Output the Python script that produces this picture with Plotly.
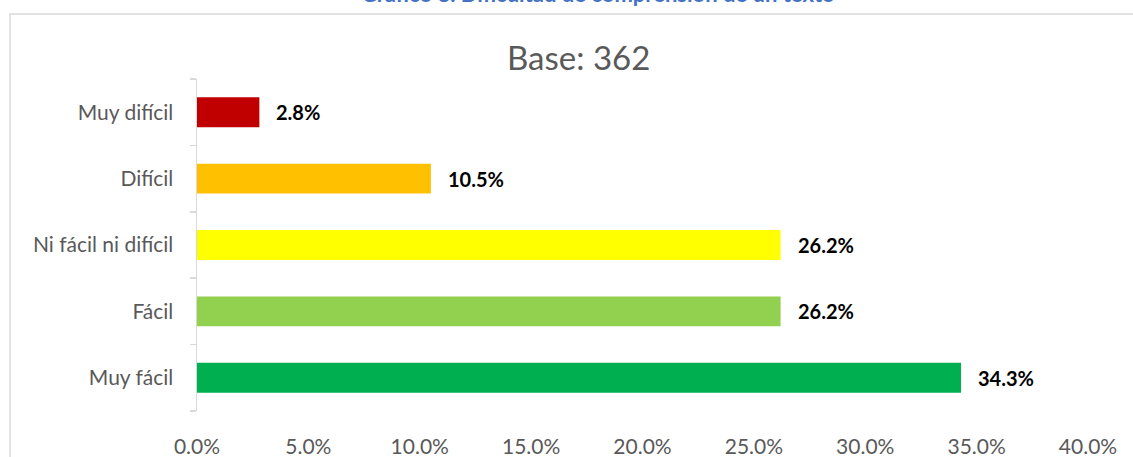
import plotly.graph_objects as go

categories = ["Muy fácil", "Fácil", "Ni fácil ni difícil", "Difícil", "Muy difícil"]
values = [34.3, 26.2, 26.2, 10.5, 2.8]
colors = ["#00B050", "#92D050", "#FFFF00", "#FFC000", "#C00000"]
x_ticks = [0, 5, 10, 15, 20, 25, 30, 35, 40]
x_ticklabels = [f"{v:.1f}%" for v in x_ticks]
title_text = "Gráfico 8. Dificultad de comprensión de un texto"
subtitle_text = "Base: 362"

FONT = "Lato, Calibri, 'Open Sans', sans-serif"
W, H = 1133, 457
L, R, T, B = 197, 45, 79, 46
PW, PH = W - L - R, H - T - B

def px_x(p):
    return (p - L) / PW

def px_y(p):
    return 1 - (p - T) / PH

fig = go.Figure()
fig.add_trace(go.Bar(
    x=values, y=categories, orientation="h",
    marker=dict(color=colors, line=dict(width=0)),
    width=0.45, hoverinfo="skip",
))

for v, c in zip(values, categories):
    fig.add_annotation(
        x=v, y=c, xref="x", yref="y", text=f"<b>{v:.1f}%</b>",
        showarrow=False, xanchor="left", yanchor="middle", xshift=15,
        font=dict(family=FONT, size=20, color="#000000"),
    )

fig.add_annotation(
    x=px_x(598), y=px_y(9), xref="paper", yref="paper",
    text=f"<b>{title_text}</b>", showarrow=False,
    xanchor="center", yanchor="bottom",
    font=dict(family=FONT, size=22, color="#4472C4"),
)
fig.add_annotation(
    x=px_x(578), y=px_y(57), xref="paper", yref="paper",
    text=subtitle_text, showarrow=False,
    xanchor="center", yanchor="middle",
    font=dict(family=FONT, size=33, color="#595959"),
)

fig.add_shape(
    type="rect", xref="paper", yref="paper",
    x0=px_x(10), x1=px_x(1250), y0=px_y(14), y1=px_y(560),
    line=dict(color="#D9D9D9", width=1.5), fillcolor="rgba(0,0,0,0)", layer="below",
)

fig.update_layout(
    width=W, height=H,
    margin=dict(l=L, r=R, t=T, b=B, autoexpand=False),
    paper_bgcolor="white", plot_bgcolor="white",
    showlegend=False, bargap=0.55,
    font=dict(family=FONT, color="#595959"),
    xaxis=dict(
        range=[0, 40], tickvals=x_ticks, ticktext=x_ticklabels,
        showgrid=False, zeroline=False, showline=False, ticks="",
        tickfont=dict(family=FONT, size=21, color="#595959"),
        ticklabelstandoff=21, fixedrange=True, automargin=False,
    ),
    yaxis=dict(
        categoryorder="array", categoryarray=categories,
        showgrid=False, zeroline=False,
        showline=True, linecolor="#D9D9D9", linewidth=1.5,
        ticks="outside", tickson="boundaries", ticklen=6, tickcolor="#D9D9D9", tickwidth=1.5,
        tickfont=dict(family=FONT, size=21, color="#595959"),
        ticklabelstandoff=18, fixedrange=True, automargin=False,
    ),
)

fig.write_html(
    "out.html",
    config={"displayModeBar": False, "staticPlot": True},
    post_script="document.body.style.margin='0';document.body.style.overflow='hidden';",
)
